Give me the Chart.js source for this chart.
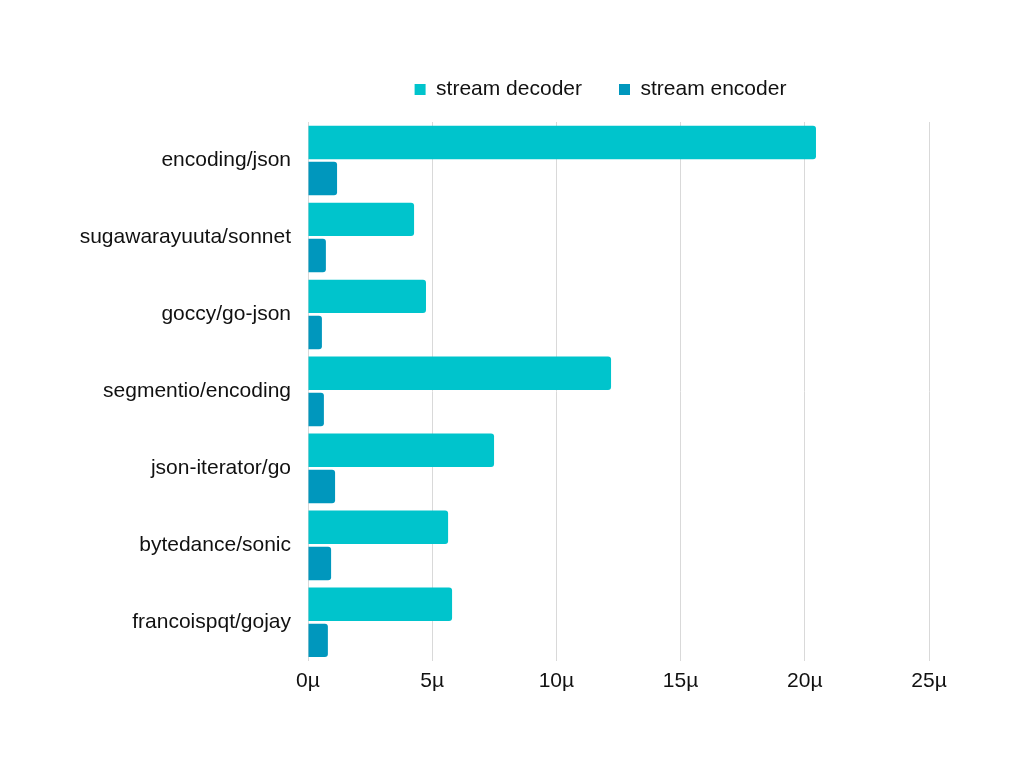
<!DOCTYPE html>
<html>
<head>
<meta charset="utf-8">
<script src="https://cdn.jsdelivr.net/npm/chart.js@4"></script>
<style>
    html, body { margin: 0; padding: 0; background: #ffffff; }
    #wrap { width: 1024px; height: 768px; }
</style>
</head>
<body>
<div id="wrap"><canvas id="benchChart" width="1024" height="768"></canvas></div>
<script>
const libraries = [
    'encoding/json',
    'sugawarayuuta/sonnet',
    'goccy/go-json',
    'segmentio/encoding',
    'json-iterator/go',
    'bytedance/sonic',
    'francoispqt/gojay'
];
const decoderValues = [20.45, 4.27, 4.75, 12.2, 7.49, 5.64, 5.8];
const encoderValues = [1.17, 0.72, 0.56, 0.64, 1.09, 0.93, 0.8];
const xTicks = [0, 5, 10, 15, 20, 25];

Chart.defaults.font.family = '"Liberation Sans", Arial, sans-serif';
Chart.defaults.font.size = 21;
Chart.defaults.color = '#111111';

// legend: keep the wide item spacing but fix its height and move it over the plot
const legendTweak = {
    id: 'legendTweak',
    beforeInit(chart) {
        const fit = chart.legend.fit;
        chart.legend.fit = function() {
            fit.bind(chart.legend)();
            this.height += 12;
        };
    },
    afterLayout(chart) {
        chart.legend.left += 136;
        chart.legend.right += 136;
    }
};

const ctx = document.getElementById('benchChart').getContext('2d');
new Chart(ctx, {
    type: 'bar',
    data: {
        labels: libraries,
        datasets: [
            {
                label: 'stream decoder',
                data: decoderValues,
                backgroundColor: '#00c4cc',
                borderRadius: 3,
                borderSkipped: 'start',
                barPercentage: 0.925,
                categoryPercentage: 0.939
            },
            {
                label: 'stream encoder',
                data: encoderValues,
                backgroundColor: '#0097bd',
                borderRadius: 3,
                borderSkipped: 'start',
                barPercentage: 0.925,
                categoryPercentage: 0.939
            }
        ]
    },
    options: {
        indexAxis: 'y',
        responsive: false,
        animation: false,
        layout: {
            padding: { top: 42, right: 95, bottom: 66, left: 0 }
        },
        plugins: {
            legend: {
                position: 'top',
                labels: {
                    boxWidth: 11,
                    boxHeight: 11,
                    padding: 37
                }
            },
            tooltip: { enabled: false }
        },
        scales: {
            x: {
                min: 0,
                max: 25,
                afterBuildTicks: function(scale) {
                    scale.ticks = xTicks.map(v => ({ value: v }));
                },
                ticks: {
                    padding: 8,
                    callback: function(value) {
                        return value + 'µ';
                    }
                },
                grid: {
                    color: '#d9d9d9',
                    drawTicks: false
                },
                border: { display: false }
            },
            y: {
                afterFit: function(scale) {
                    scale.width = 308;
                },
                ticks: { padding: 17 },
                grid: { display: false, drawTicks: false },
                border: { display: false }
            }
        }
    },
    plugins: [legendTweak]
});
</script>
</body>
</html>
